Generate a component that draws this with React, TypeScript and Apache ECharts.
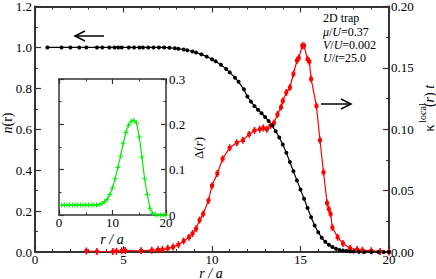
import React, { useEffect, useRef } from 'react';
import * as echarts from 'echarts';

const FONT = 'Liberation Serif';

// n(r) — black, left axis
const nR = [0.7, 1.5, 2.0, 2.5, 2.9, 3.5, 3.8, 4.2, 4.5, 4.7, 4.9, 5.3, 5.6, 5.9, 6.1, 6.4, 6.7, 7.0, 7.3, 7.6, 7.9, 8.1, 8.4, 8.6, 8.9, 9.1, 9.4, 9.7, 10.0, 10.2, 10.5, 10.8, 11.0, 11.3, 11.5, 11.8, 12.0, 12.2, 12.4, 12.6, 12.8, 13.0, 13.2, 13.4, 13.6, 13.8, 14.0, 14.2, 14.4, 14.6, 14.8, 15.0, 15.2, 15.4, 15.6, 15.8, 16.0, 16.2, 16.4, 16.6, 16.8, 17.0, 17.2, 17.4, 17.6, 17.8, 18.0, 18.3, 18.6, 19.0, 19.4, 19.7, 20.0];
const nVals = [1, 1, 1, 1, 1, 1, 1, 1, 1, 1, 1, 1, 1, 1, 1, 1, 1, 1, 1, 0.998, 0.996, 0.993, 0.99, 0.986, 0.98, 0.975, 0.966, 0.955, 0.942, 0.932, 0.915, 0.895, 0.878, 0.852, 0.832, 0.795, 0.76, 0.735, 0.713, 0.695, 0.678, 0.66, 0.64, 0.618, 0.59, 0.56, 0.525, 0.485, 0.44, 0.395, 0.35, 0.305, 0.26, 0.215, 0.17, 0.13, 0.097, 0.07, 0.05, 0.035, 0.024, 0.016, 0.01, 0.007, 0.005, 0.003, 0.002, 0.001, 0.0005, 0, 0, 0, 0];

// kappa_local(r) t — red, right axis
const kR = [2.9, 3.5, 4.4, 4.6, 4.9, 5.1, 6.0, 6.6, 6.95, 7.2, 7.5, 7.8, 8.1, 8.4, 8.7, 8.9, 9.1, 9.3, 9.5, 9.8, 10.0, 10.3, 10.6, 11.0, 11.4, 11.75, 12.1, 12.4, 12.7, 12.9, 13.1, 13.3, 13.5, 13.7, 13.9, 14.0, 14.2, 14.4, 14.6, 14.8, 14.9, 15.1, 15.2, 15.4, 15.5, 15.6, 15.9, 16.1, 16.3, 16.5, 16.6, 16.7, 16.8, 17.1, 17.4, 17.8, 18.2, 18.5, 19.0, 19.5, 20.0];
const kVals = [0.0008, 0.0004, 0.0005, 0.0006, 0.001, 0.0012, 0.001, 0.0015, 0.0018, 0.002, 0.003, 0.004, 0.006, 0.009, 0.012, 0.015, 0.019, 0.026, 0.031, 0.042, 0.054, 0.064, 0.076, 0.085, 0.089, 0.091, 0.096, 0.099, 0.1, 0.101, 0.1, 0.103, 0.105, 0.112, 0.118, 0.123, 0.13, 0.134, 0.145, 0.156, 0.158, 0.168, 0.168, 0.157, 0.155, 0.141, 0.119, 0.091, 0.065, 0.04, 0.035, 0.031, 0.02, 0.012, 0.007, 0.003, 0.002, 0.0015, 0.001, 0.0005, 0];

// Delta(r) — green, inset
const dR = [0.5, 1, 1.5, 2, 2.5, 3, 3.5, 4, 4.5, 5, 5.5, 6, 6.5, 7, 7.5, 8, 8.5, 9, 9.5, 10, 10.5, 11, 11.5, 12, 12.5, 13, 13.5, 14, 14.5, 15, 15.5, 16, 16.5, 17, 17.5, 18, 18.5, 19, 19.5, 20];
const dVals = [0.022, 0.022, 0.022, 0.022, 0.022, 0.022, 0.022, 0.022, 0.022, 0.022, 0.022, 0.022, 0.022, 0.022, 0.023, 0.025, 0.029, 0.035, 0.045, 0.06, 0.08, 0.105, 0.13, 0.158, 0.182, 0.198, 0.207, 0.209, 0.203, 0.172, 0.128, 0.08, 0.045, 0.015, 0.004, 0.001, 0, 0, 0, 0];

const mainXTicks = { min: 0, max: 20, interval: 5 };
const nTicks = { min: 0, max: 1.2, interval: 0.2 };
const kTicks = { min: 0, max: 0.2, interval: 0.05 };
const insetXTicks = { min: 0, max: 20, interval: 10 };
const insetYTicks = { min: 0, max: 0.3, interval: 0.1 };

const AX = '#333';

function axis(extra: any, showLabel: boolean, minorSplit: number, lineW = 2, tickLen = 6) {
  return {
    type: 'value',
    splitLine: { show: false },
    axisLine: { show: true, onZero: false, lineStyle: { color: AX, width: lineW } },
    axisTick: { show: true, inside: true, length: tickLen, lineStyle: { color: AX, width: 1.2 } },
    minorTick: { show: true, splitNumber: minorSplit, length: tickLen / 2, lineStyle: { color: AX, width: 1 } },
    axisLabel: { show: showLabel, fontFamily: FONT, fontSize: 13, color: '#000', margin: 1 },
    ...extra,
  };
}

export default function App() {
  const ref = useRef<HTMLDivElement>(null);
  useEffect(() => {
    const chart = echarts.init(ref.current!, null, { renderer: 'svg' });
    const plus = 'path://M4,0H6V4H10V6H6V10H4V6H0V4H4Z';
    const errSq = 'path://M1.5,0H3.5V2.5H5V7.5H3.5V10H1.5V7.5H0V2.5H1.5Z';
    const option: any = {
      animation: false,
      backgroundColor: '#fff',
      grid: [
        { left: 35, right: 47, top: 5, bottom: 27 },
        { left: 59, top: 79, width: 107, height: 136, show: true, backgroundColor: '#fff', borderWidth: 0 },
      ],
      xAxis: [
        axis({ gridIndex: 0, position: 'bottom', ...mainXTicks }, true, 5),
        axis({ gridIndex: 0, position: 'top', ...mainXTicks }, false, 5),
        axis({ gridIndex: 1, position: 'bottom', ...insetXTicks }, true, 2, 1.5, 5),
        axis({ gridIndex: 1, position: 'top', ...insetXTicks }, false, 2, 1.5, 5),
      ],
      yAxis: [
        axis({ gridIndex: 0, position: 'left', ...nTicks, axisLabel: { fontFamily: FONT, fontSize: 13, color: '#000', margin: 3, formatter: (v: number) => v.toFixed(1) } }, true, 2),
        axis({ gridIndex: 0, position: 'right', ...kTicks, axisLabel: { fontFamily: FONT, fontSize: 13, color: '#000', margin: 2, formatter: (v: number) => v.toFixed(2) } }, true, 2),
        axis({ gridIndex: 1, position: 'right', ...insetYTicks, axisLabel: { fontFamily: FONT, fontSize: 13, color: '#000', margin: 3, formatter: (v: number) => (v === 0 ? '0' : String(+v.toFixed(1))) } }, true, 2, 1.5, 5),
        axis({ gridIndex: 1, position: 'left', ...insetYTicks }, false, 2, 1.5, 5),
      ],
      series: [
        {
          type: 'line', xAxisIndex: 0, yAxisIndex: 1,
          data: kR.map((r, i) => [r, kVals[i]]),
          symbol: errSq, symbolSize: [4, 7],
          lineStyle: { color: '#ff0000', width: 1.2 },
          itemStyle: { color: '#ff0000' },
        },
        {
          type: 'line', xAxisIndex: 0, yAxisIndex: 0,
          data: nR.map((r, i) => [r, nVals[i]]),
          symbol: 'circle', symbolSize: 4,
          lineStyle: { color: '#000', width: 1.2 },
          itemStyle: { color: '#000' },
        },
        {
          type: 'line', xAxisIndex: 2, yAxisIndex: 2,
          data: dR.map((r, i) => [r, dVals[i]]),
          symbol: plus, symbolSize: 5,
          lineStyle: { color: '#00ee00', width: 1.2 },
          itemStyle: { color: '#00ee00' },
        },
      ],
      graphic: [
        // arrows
        { type: 'line', shape: { x1: 75, y1: 36, x2: 104, y2: 36 }, style: { stroke: '#000', lineWidth: 1.5 } },
        { type: 'polyline', shape: { points: [[85, 31], [75, 36], [85, 41]] }, style: { stroke: '#000', lineWidth: 1.5, fill: null } },
        { type: 'line', shape: { x1: 321, y1: 104, x2: 351, y2: 104 }, style: { stroke: '#000', lineWidth: 1.5 } },
        { type: 'polyline', shape: { points: [[341, 99], [351, 104], [341, 109]] }, style: { stroke: '#000', lineWidth: 1.5, fill: null } },
        // annotation
        { type: 'text', x: 323, y: 18, style: { text: '2D trap', fontFamily: FONT, fontSize: 12, fill: '#000', verticalAlign: 'middle' } },
        { type: 'text', x: 323, y: 32, style: { text: '{i|μ}/{i|U}=0.37', fontFamily: FONT, fontSize: 12, fill: '#000', verticalAlign: 'middle', rich: { i: { fontStyle: 'italic', fontFamily: FONT, fontSize: 12 } } } },
        { type: 'text', x: 323, y: 45, style: { text: '{i|V}/{i|U}=0.002', fontFamily: FONT, fontSize: 12, fill: '#000', verticalAlign: 'middle', rich: { i: { fontStyle: 'italic', fontFamily: FONT, fontSize: 12 } } } },
        { type: 'text', x: 323, y: 58, style: { text: '{i|U}/{i|t}=25.0', fontFamily: FONT, fontSize: 12, fill: '#000', verticalAlign: 'middle', rich: { i: { fontStyle: 'italic', fontFamily: FONT, fontSize: 12 } } } },
        // axis titles
        { type: 'text', x: 7, y: 123, rotation: Math.PI / 2, style: { text: '{i|n}(r)', fontFamily: FONT, fontSize: 14, fill: '#000', align: 'center', verticalAlign: 'middle', rich: { i: { fontStyle: 'italic', fontFamily: FONT, fontSize: 14 } } } },
        { type: 'text', x: 211, y: 273, style: { text: 'r / a', fontFamily: FONT, fontSize: 14, fontStyle: 'italic', fill: '#000', align: 'center', verticalAlign: 'middle' } },
        { type: 'text', x: 112, y: 239, style: { text: 'r / a', fontFamily: FONT, fontSize: 14, fontStyle: 'italic', fill: '#000', align: 'center', verticalAlign: 'middle' } },
        { type: 'text', x: 198, y: 148, rotation: Math.PI / 2, style: { text: 'Δ({i|r})', fontFamily: FONT, fontSize: 13, fill: '#000', align: 'center', verticalAlign: 'middle', rich: { i: { fontStyle: 'italic', fontFamily: FONT, fontSize: 13 } } } },
        { type: 'text', x: 429, y: 128, rotation: Math.PI / 2, style: { text: 'κ', fontFamily: FONT, fontSize: 15, fill: '#000', align: 'center', verticalAlign: 'middle' } },
        { type: 'text', x: 422, y: 113, rotation: Math.PI / 2, style: { text: 'local', fontFamily: FONT, fontSize: 10, fill: '#000', align: 'center', verticalAlign: 'middle' } },
        { type: 'text', x: 429, y: 96, rotation: Math.PI / 2, style: { text: '({i|r}) {i|t}', fontFamily: FONT, fontSize: 14, fill: '#000', align: 'center', verticalAlign: 'middle', rich: { i: { fontStyle: 'italic', fontFamily: FONT, fontSize: 14 } } } },
      ],
    };
    chart.setOption(option);
    return () => chart.dispose();
  }, []);
  return <div ref={ref} style={{ position: 'fixed', left: 0, top: 0, width: 436, height: 279, background: '#fff' }} />;
}
